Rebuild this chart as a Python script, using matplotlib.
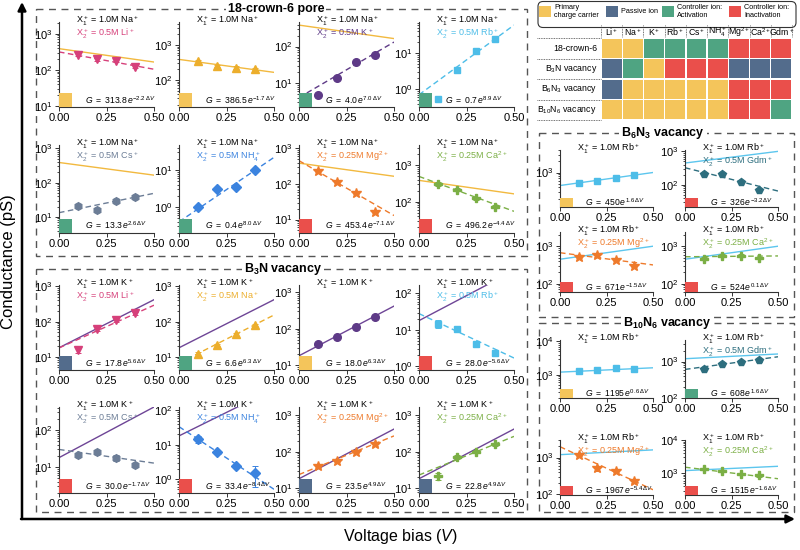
import numpy as np
import matplotlib
matplotlib.use("Agg")
import matplotlib.pyplot as plt
from matplotlib.patches import Rectangle, FancyBboxPatch
from matplotlib.ticker import LogLocator, NullFormatter

plt.rcParams['font.family'] = ['Liberation Sans', 'DejaVu Sans']
plt.rcParams['mathtext.fontset'] = 'custom'
plt.rcParams['mathtext.rm'] = 'Liberation Sans'
plt.rcParams['mathtext.it'] = 'Liberation Sans:italic'
plt.rcParams['mathtext.bf'] = 'Liberation Sans:bold'

# ---------------- data ----------------
V = [0.1, 0.2, 0.3, 0.4]

table_ions = ["Li", "Na", "K", "Rb", "Cs", "NH4", "Mg", "Ca", "Gdm"]
table_rows = ["18-crown-6", r"B$_3$N vacancy", r"B$_6$N$_3$ vacancy", r"B$_{10}$N$_6$ vacancy"]
# P primary, S passive, A activation, I inactivation
table_roles = ["PPAAAAIII", "SAPIIISSS", "SPPPPPIII", "PPPPPPIIA"]

# 18-crown-6 pore (primary Na+)
crown_ions = ["Li", "Na", "K", "Rb", "Cs", "NH4", "Mg", "Ca"]
crown_conc = ["0.5M", None, "0.5M", "0.5M", "0.5M", "0.5M", "0.25M", "0.25M"]
crown_G = [[265, 200, 180, 124], [337, 250, 225, 203], [4.8, 13.3, 37, 60], [0.55, 3.4, 11.1, 24],
           [21, 16, 29, 37], [1.0, 3.0, 3.5, 10.0], [230, 117, 57, 16.5], [310, 215, 124, 73]]
crown_err = [[0.1, 0.1, 0.1, 0.1], [0.08, 0.08, 0.08, 0.08], [0.1, 0.08, 0.08, 0.08], [0.05, 0.1, 0.08, 0.08],
             [0.12, 0.1, 0.08, 0.08], [0.08, 0.1, 0.1, 0.08], [0.08, 0.08, 0.08, 0.1], [0.1, 0.08, 0.1, 0.1]]
crown_A = [313.8, 386.5, 4.0, 0.7, 13.3, 0.4, 453.4, 496.2]
crown_b = [-2.2, -1.7, 7.0, 8.9, 2.6, 8.0, -7.1, -4.4]

# B3N vacancy (primary K+)
b3n_ions = ["Li", "Na", "K", "Rb", "Cs", "NH4", "Mg", "Ca"]
b3n_conc = ["0.5M", "0.5M", None, "0.5M", "0.5M", "0.5M", "0.25M", "0.25M"]
b3n_G = [[16, 62, 111, 173], [11.7, 22, 43, 80], [38, 60, 110, 215], [15, 10.6, 4.1, 2.3],
         [21, 26, 18, 11.5], [14.6, 6.3, 2.4, 1.5], [41, 56, 100, 160], [21, 72, 100, 160]]
b3n_err = [[0.2, 0.1, 0.1, 0.1], [0.15, 0.08, 0.08, 0.08], [0.08, 0.08, 0.08, 0.08], [0.25, 0.1, 0.15, 0.15],
           [0.12, 0.12, 0.2, 0.1], [0.25, 0.1, 0.1, 0.6], [0.15, 0.08, 0.08, 0.08], [0.2, 0.1, 0.08, 0.1]]
b3n_A = [17.8, 6.6, 18.0, 28.0, 30.0, 33.4, 23.5, 22.8]
b3n_b = [5.6, 6.3, 6.3, -5.6, -1.7, -8.4, 4.9, 4.9]

# B6N3 vacancy (primary Rb+)
b6_ions = ["Rb", "Gdm", "Mg", "Ca"]
b6_conc = [None, "0.5M", "0.25M", "0.25M"]
b6_G = [[540, 600, 735, 850], [215, 210, 125, 70], [520, 575, 440, 295], [470, 565, 565, 490]]
b6_err = [[0.08, 0.08, 0.08, 0.08], [0.08, 0.08, 0.08, 0.08], [0.08, 0.08, 0.08, 0.08], [0.08, 0.08, 0.08, 0.08]]
b6_A = [450, 326, 671, 524]
b6_b = [1.6, -3.2, -1.5, 0.1]

# B10N6 vacancy (primary Rb+)
b10_ions = ["Rb", "Gdm", "Mg", "Ca"]
b10_conc = [None, "0.5M", "0.25M", "0.25M"]
b10_G = [[1280, 1390, 1560, 1500], [630, 860, 1000, 1090], [1170, 510, 440, 230], [1320, 1160, 940, 860]]
b10_err = [[0.08, 0.08, 0.08, 0.08], [0.08, 0.08, 0.08, 0.08], [0.08, 0.15, 0.1, 0.1], [0.08, 0.08, 0.08, 0.08]]
b10_A = [1195, 608, 1967, 1515]
b10_b = [0.6, 1.6, -5.4, -1.6]

# ---------------- styles ----------------
ion_col = {"Li": "#D6407A", "Na": "#ECAE2C", "K": "#5E3A87", "Rb": "#4DBDE8", "Cs": "#6C7D96",
           "NH4": "#3B83DF", "Mg": "#EE7A2B", "Ca": "#7BAF45", "Gdm": "#2D6E7E"}
line_col = {"Na": "#F2B93F", "K": "#6E4596", "Rb": "#5CC6EE"}
marker = {"Li": "v", "Na": "^", "K": "o", "Rb": "s", "Cs": "h", "NH4": "D", "Mg": "*", "Ca": "P", "Gdm": "p"}
msize = {"Li": 5.5, "Na": 5.5, "K": 5.5, "Rb": 5, "Cs": 5.5, "NH4": 4.8, "Mg": 7, "Ca": 6, "Gdm": 5.5}
ion_label = {"Li": r"Li$^+$", "Na": r"Na$^+$", "K": r"K$^+$", "Rb": r"Rb$^+$", "Cs": r"Cs$^+$",
             "NH4": r"NH$_4^+$", "Mg": r"Mg$^{2+}$", "Ca": r"Ca$^{2+}$", "Gdm": r"Gdm$^+$"}
role_col = {"P": "#F4C55B", "S": "#536C8C", "A": "#4FA482", "I": "#EA4F4B"}

W, H = 800, 550
fig = plt.figure(figsize=(W / 100, H / 100), dpi=100)
ov = fig.add_axes([0, 0, 1, 1])
ov.set_xlim(0, W)
ov.set_ylim(H, 0)
ov.axis('off')


def draw_panel(l, t, r, b, ion, vals, rel, A, bexp, conc, prim, primA, primB, role, ylim):
    ax = fig.add_axes([l / W, 1 - b / H, (r - l) / W, (b - t) / H])
    ax.set_facecolor('none')
    ax.set_yscale('log')
    ax.set_xlim(0, 0.5)
    ax.set_ylim(*ylim)
    xx = np.linspace(0, 0.5, 100)
    if ion != prim:
        ax.plot(xx, primA * np.exp(primB * xx), color=line_col[prim], lw=1.0, zorder=2)
        ax.plot(xx, A * np.exp(bexp * xx), color=ion_col[ion], lw=1.0, ls=(0, (4, 2.5)), zorder=2)
    else:
        ax.plot(xx, A * np.exp(bexp * xx), color=line_col[ion], lw=1.0, zorder=2)
    vals = np.array(vals, dtype=float)
    ax.errorbar(V, vals, yerr=vals * np.array(rel), fmt=marker[ion], color=ion_col[ion],
                ms=msize[ion], capsize=2, elinewidth=0.7, capthick=0.7, zorder=3)
    ax.add_patch(Rectangle((0, 0), 0.135, 0.16, transform=ax.transAxes, color=role_col[role],
                           zorder=4, lw=0))
    ax.set_xticks([0, 0.25, 0.5])
    ax.set_xticklabels(["0.00", "0.25", "0.50"])
    ax.yaxis.set_major_locator(LogLocator(base=10, numticks=10))
    ax.yaxis.set_minor_locator(LogLocator(base=10, subs=np.arange(2, 10), numticks=10))
    ax.yaxis.set_minor_formatter(NullFormatter())
    ax.tick_params(labelsize=8, length=3, width=0.7, pad=1.5, color='#333')
    ax.tick_params(which='minor', length=1.5, width=0.5)
    for s in ['top', 'right']:
        ax.spines[s].set_visible(False)
    for s in ['left', 'bottom']:
        ax.spines[s].set_linewidth(0.8)
        ax.spines[s].set_color('#333')
    ax.annotate(r"X$_1^+$ = 1.0M " + ion_label[prim], xy=(0.18, 1), xycoords='axes fraction',
                xytext=(0, 1), textcoords='offset points', ha='left', va='center', fontsize=6.5)
    if ion != prim:
        ax.annotate(r"X$_2^+$ = " + conc + " " + ion_label[ion], xy=(0.18, 1), xycoords='axes fraction',
                    xytext=(0, -8.8), textcoords='offset points', ha='left', va='center', fontsize=6.5,
                    color=ion_col[ion])
    ax.text(0.27, 0.085, rf"$G\ =\ {A}\,e^{{{bexp}\,\Delta V}}$", transform=ax.transAxes,
            ha='left', va='center', fontsize=6.2, zorder=5)
    return ax


# ---------------- layout ----------------
lefts = [59, 179, 299, 419]
pw = 95
crown_rows = [(22, 107), (145, 233)]
b3n_rows = [(285, 370), (407, 493)]
crown_ylim = [(9.5, 2100), (17, 4500), (2.2, 470), (0.32, 73), (3.4, 1250), (0.2, 47), (4.2, 1250), (14, 3600)]
b3n_ylim = [(4.2, 1100), (4.2, 1100), (7.3, 1600), (0.8, 170), (2, 420), (0.39, 125), (7.3, 1700), (7.3, 1700)]

for i, ion in enumerate(crown_ions):
    t, b = crown_rows[i // 4]
    l = lefts[i % 4]
    role = table_roles[0][table_ions.index(ion)]
    draw_panel(l, t, l + pw, b, ion, crown_G[i], crown_err[i], crown_A[i], crown_b[i], crown_conc[i],
               "Na", crown_A[1], crown_b[1], role, crown_ylim[i])

for i, ion in enumerate(b3n_ions):
    t, b = b3n_rows[i // 4]
    l = lefts[i % 4]
    role = table_roles[1][table_ions.index(ion)]
    draw_panel(l, t, l + pw, b, ion, b3n_G[i], b3n_err[i], b3n_A[i], b3n_b[i], b3n_conc[i],
               "K", b3n_A[2], b3n_b[2], role, b3n_ylim[i])

rlefts = [560, 685]
rw = 93
b6_rows = [(150, 207), (232, 292)]
b10_rows = [(340, 398), (440, 495)]
b6_ylim = [(120, 4000), (22, 1100), (60, 2400), (60, 2400)]
b10_ylim = [(200, 11000), (100, 3900), (95, 3000), (220, 10000)]

for i, ion in enumerate(b6_ions):
    t, b = b6_rows[i // 2]
    l = rlefts[i % 2]
    role = table_roles[2][table_ions.index(ion)]
    draw_panel(l, t, l + rw, b, ion, b6_G[i], b6_err[i], b6_A[i], b6_b[i], b6_conc[i],
               "Rb", b6_A[0], b6_b[0], role, b6_ylim[i])

for i, ion in enumerate(b10_ions):
    t, b = b10_rows[i // 2]
    l = rlefts[i % 2]
    role = table_roles[3][table_ions.index(ion)]
    draw_panel(l, t, l + rw, b, ion, b10_G[i], b10_err[i], b10_A[i], b10_b[i], b10_conc[i],
               "Rb", b10_A[0], b10_b[0], role, b10_ylim[i])

# ---------------- dashed boxes & titles ----------------
boxes = [(36, 9, 527, 256, "18-crown-6 pore", 276),
         (36, 269, 527, 512, r"B$_\mathbf{3}$N vacancy", 283),
         (539, 133, 794, 317, r"B$_\mathbf{6}$N$_\mathbf{3}$ vacancy", 663),
         (539, 323, 794, 512, r"B$_\mathbf{10}$N$_\mathbf{6}$ vacancy", 667)]
for x0, y0, x1, y1, title, tx in boxes:
    ov.add_patch(Rectangle((x0, y0), x1 - x0, y1 - y0, fill=False, ls=(0, (5, 4)), lw=1.0, ec='#555'))
    ov.text(tx, y0, title, ha='center', va='center', fontsize=9, fontweight='bold',
            bbox=dict(fc='white', ec='none', pad=1.5))

# big arrows
ov.annotate('', xy=(22, 2), xytext=(22, 519),
            arrowprops=dict(arrowstyle='-|>', lw=1.8, color='k', mutation_scale=12, shrinkA=0, shrinkB=0))
ov.annotate('', xy=(795, 519), xytext=(21, 519),
            arrowprops=dict(arrowstyle='-|>', lw=1.8, color='k', mutation_scale=12, shrinkA=0, shrinkB=0))
ov.text(9, 262, "Conductance (pS)", rotation=90, ha='center', va='center', fontsize=12)
ov.text(400, 537, r"Voltage bias ($V$)", ha='center', va='center', fontsize=11.5)

# ---------------- legend ----------------
ov.add_patch(FancyBboxPatch((538, 1.5), 258, 26, boxstyle="round,pad=0,rounding_size=5",
                            fill=False, ec='#333', lw=0.8))
leg_items = [(539, "P", "Primary\ncharge carrier"), (606, "S", "Passive ion"),
             (662, "A", "Controller ion:\nActivation"), (729, "I", "Controller ion:\nInactivation")]
for x, role, txt in leg_items:
    ov.add_patch(Rectangle((x, 6), 12, 11, color=role_col[role], lw=0))
    ov.text(x + 15, 11.5, txt, ha='left', va='center', fontsize=5.2, linespacing=1.1)

# ---------------- table ----------------
gx0, gx1 = 601, 792
gy0, gy1 = 38, 120
cw = (gx1 - gx0) / len(table_ions)
rh = (gy1 - gy0) / len(table_rows)
for j, ion in enumerate(table_ions):
    cx = gx0 + (j + 0.5) * cw
    ov.text(cx, 32, ion_label[ion], ha='center', va='center', fontsize=6.3)
    ov.plot([gx0 + j * cw, gx0 + j * cw], [25, 37], color='#444', lw=0.6, ls=(0, (1, 1)))
ov.plot([gx1, gx1], [25, 37], color='#444', lw=0.6, ls=(0, (1, 1)))
for i, name in enumerate(table_rows):
    cy = gy0 + (i + 0.5) * rh
    ov.text(gx0 - 4, cy, name, ha='right', va='center', fontsize=6.3)
    for j in range(len(table_ions)):
        ov.add_patch(Rectangle((gx0 + j * cw + 0.7, gy0 + i * rh + 0.7), cw - 1.4, rh - 1.4,
                               color=role_col[table_roles[i][j]], lw=0))
for i in range(len(table_rows) + 1):
    ov.plot([537, gx0], [gy0 + i * rh, gy0 + i * rh], color='#444', lw=0.6, ls=(0, (1, 1)))

fig.savefig("out.png", dpi=100)
